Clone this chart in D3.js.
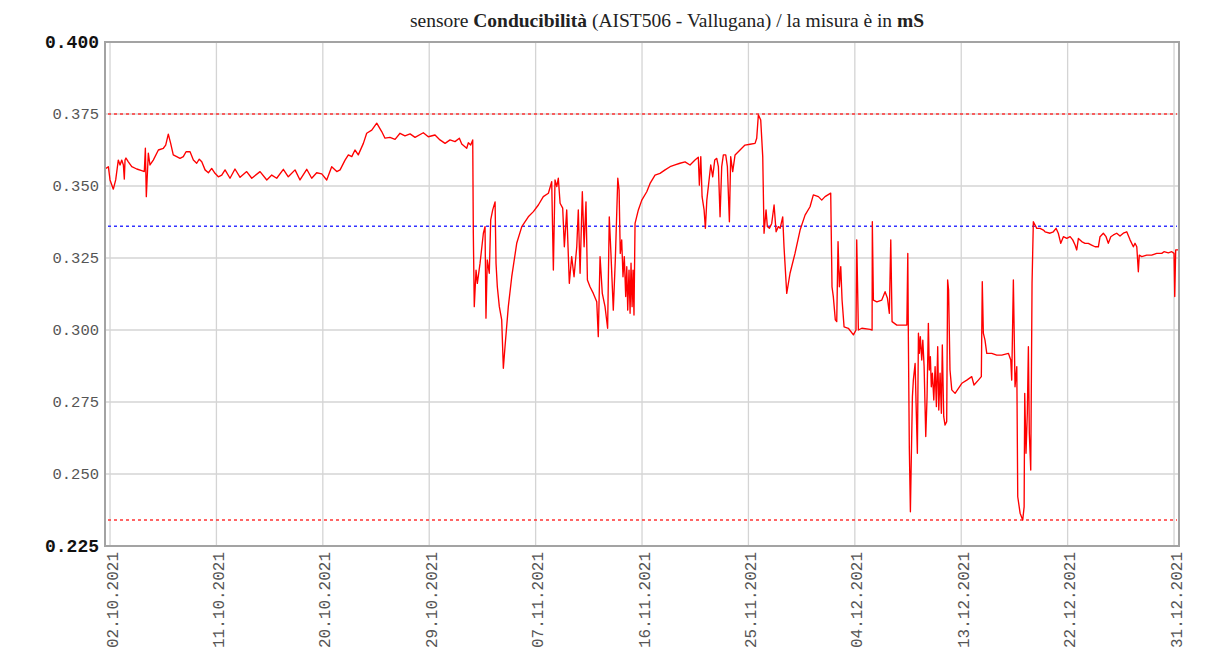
<!DOCTYPE html>
<html><head><meta charset="utf-8">
<script src="https://cdn.jsdelivr.net/npm/d3@7"></script>
<style>body{margin:0;background:#fff} svg{display:block}</style>
</head><body><svg id="chart" width="1214" height="653"></svg>
<script>
// days since 02.10.2021 00:00 (UTC) and measured conductivity (mS)
const days = [
-0.34,-0.14,0,0.28,0.48,0.70,0.85,0.99,1.13,1.21,1.27,1.35,1.55,1.84,2.26,2.68,2.90,2.99,3.07,3.24,
3.38,3.66,4.09,4.51,4.71,4.93,5.13,5.35,5.64,5.92,6.20,6.43,6.77,7.05,7.33,7.55,7.76,8.04,8.32,8.60,
8.88,9.16,9.45,9.73,10.15,10.57,11.00,11.56,11.99,12.69,13.26,13.68,14.10,14.66,15.08,15.65,16.07,16.64,17.06,17.48,
17.91,18.33,18.75,19.18,19.46,19.88,20.16,20.45,20.72,21.00,21.43,21.71,22.14,22.56,22.98,23.26,23.68,24.11,24.53,24.95,
25.38,25.80,26.50,26.92,27.49,27.91,28.34,28.76,29.18,29.55,29.75,30.17,30.31,30.51,30.68,30.73,30.81,30.96,31.07,31.30,
31.58,31.72,31.80,31.91,32.08,32.20,32.37,32.57,32.65,32.76,32.93,33.13,33.27,33.41,33.69,33.98,34.40,34.83,35.38,35.81,
36.23,36.65,37.08,37.36,37.50,37.64,37.79,37.92,38.07,38.29,38.43,38.63,38.85,39.05,39.25,39.48,39.61,39.76,39.95,40.10,
40.26,40.38,40.60,40.88,41.17,41.30,41.45,41.64,41.87,42.09,42.23,42.37,42.57,42.74,
42.95,43.06,43.16,43.28,43.39,43.50,43.62,43.71,43.79,43.90,43.99,44.07,44.16,44.24,44.32,44.41,
44.69,44.98,45.40,45.68,46.10,46.52,46.95,47.37,47.79,48.21,48.64,49.06,49.48,49.76,49.85,
49.97,50.08,50.25,50.36,50.48,50.64,50.81,50.98,51.15,51.32,51.46,51.60,51.74,51.88,52.08,52.22,52.39,52.50,52.67,52.87,
53.29,53.71,54.14,54.56,54.70,54.84,55.04,55.21,55.32,55.49,55.60,55.77,55.97,56.17,56.34,56.53,56.68,56.90,57.01,57.24,
57.52,57.94,58.37,58.79,59.21,59.49,59.92,60.20,60.48,60.96,61.07,61.18,61.35,61.47,61.58,61.69,61.81,61.92,62.09,62.45,
62.88,63.10,63.16,63.30,63.59,64.29,64.46,64.48,64.57,64.86,65.28,65.56,65.76,65.92,66.04,66.15,66.55,66.97,67.40,67.48,
67.53,67.61,67.70,67.76,67.87,67.95,68.10,68.18,68.29,68.38,68.46,68.54,68.66,68.75,68.86,69.00,69.11,69.22,69.30,69.39,
69.47,69.56,69.68,69.79,69.90,70.01,70.10,70.21,70.32,70.40,70.52,70.63,70.77,70.85,70.93,71.05,71.20,
71.48,71.68,72.05,72.47,72.89,73.08,73.45,73.70,73.78,73.87,74.01,
74.16,74.58,75.00,75.43,75.99,76.19,76.27,76.41,76.55,76.70,76.78,76.98,77.20,77.32,77.37,77.48,77.59,77.68,77.76,77.88,
77.99,78.10,78.39,78.67,78.95,79.09,79.51,79.79,80.02,80.21,80.42,80.64,80.93,81.21,81.43,81.63,81.77,81.91,82.19,82.47,
82.75,83.03,83.32,83.60,83.74,84.02,84.25,84.44,84.65,84.87,85.15,85.43,85.71,86.00,86.28,86.56,86.70,86.85,86.98,87.06,
87.27,87.69,88.11,88.54,88.96,89.15,89.52,89.81,90.00,90.06,90.14,90.36
];
const values = [
0.3561,0.3567,0.3521,0.3489,0.3521,0.3590,0.3573,0.3590,0.3573,0.3524,0.3590,0.3597,0.3584,0.3567,0.3559,0.3553,0.3550,0.3631,0.3463,0.3614,
0.3573,0.3590,0.3625,0.3631,0.3642,0.3680,0.3648,0.3608,0.3602,0.3596,0.3602,0.3619,0.3619,0.3590,0.3579,0.3593,0.3584,0.3556,0.3546,0.3561,
0.3544,0.3532,0.3538,0.3556,0.3527,0.3559,0.3530,0.3550,0.3527,0.3550,0.3521,0.3538,0.3527,0.3558,0.3532,0.3556,0.3521,0.3558,0.3527,0.3546,
0.3542,0.3521,0.3567,0.3550,0.3556,0.3590,0.3608,0.3602,0.3625,0.3608,0.3648,0.3683,0.3694,0.3718,0.3689,0.3666,0.3669,0.3662,0.3683,0.3674,
0.3681,0.3669,0.3685,0.3671,0.3677,0.3660,0.3648,0.3660,0.3654,0.3666,0.3646,0.3631,0.3650,0.3642,0.3660,0.3336,0.3081,0.3208,0.3162,0.3232,
0.3336,0.3359,0.3041,0.3243,0.3197,0.3382,0.3417,0.3445,0.3232,0.3150,0.3081,0.3035,0.2867,0.2942,0.3081,0.3185,0.3301,0.3359,0.3393,0.3411,
0.3434,0.3463,0.3475,0.3515,0.3208,0.3521,0.3498,0.3527,0.3440,0.3423,0.3289,0.3417,0.3162,0.3255,0.3185,0.3289,0.3417,0.3197,0.3480,0.3289,
0.3445,0.3174,0.3150,0.3127,0.3098,0.2977,0.3255,0.3127,0.3081,0.3006,0.3393,0.3266,0.3069,0.3243,
0.3527,0.3486,0.3266,0.3313,0.3185,0.3255,0.3116,0.3220,0.3069,0.3208,0.3058,0.3232,0.3081,0.3208,0.3052,0.3370,
0.3417,0.3451,0.3480,0.3509,0.3538,0.3544,0.3556,0.3567,0.3573,0.3579,0.3584,0.3573,0.3590,0.3600,0.3503,
0.3602,0.3463,0.3417,0.3353,0.3451,0.3509,0.3573,0.3532,0.3590,0.3596,0.3567,0.3393,0.3567,0.3608,0.3608,0.3567,0.3376,0.3602,0.3550,0.3608,
0.3625,0.3642,0.3645,0.3648,0.3666,0.3747,0.3729,0.3602,0.3336,0.3417,0.3359,0.3353,0.3370,0.3434,0.3341,0.3359,0.3353,0.3393,0.3289,0.3127,
0.3197,0.3266,0.3347,0.3399,0.3428,0.3469,0.3463,0.3451,0.3463,0.3475,0.3150,0.3116,0.3035,0.3029,0.3307,0.3150,0.3220,0.3104,0.3011,0.3006,
0.2983,0.3000,0.3313,0.3000,0.3006,0.3002,0.3000,0.3376,0.3104,0.3098,0.3104,0.3133,0.3110,0.3058,0.3313,0.3029,0.3017,0.3017,0.3017,0.3266,
0.2965,0.2589,0.2369,0.2514,0.2768,0.2826,0.2884,0.2745,0.2572,0.2989,0.2919,0.2977,0.2896,0.2965,0.2873,0.2630,0.2768,0.3023,0.2861,0.2907,
0.2803,0.2850,0.2757,0.2873,0.2734,0.2942,0.2722,0.2850,0.2711,0.2948,0.2699,0.2670,0.2682,0.3174,0.3139,0.2861,0.2792,
0.2780,0.2792,0.2815,0.2826,0.2838,0.2809,0.2826,0.2838,0.3168,0.2989,0.2965,
0.2919,0.2919,0.2913,0.2913,0.2919,0.2896,0.2826,0.3174,0.2803,0.2873,0.2421,0.2364,0.2340,0.2386,0.2780,0.2572,0.2711,0.2942,0.2641,0.2514,
0.3162,0.3376,0.3353,0.3353,0.3347,0.3341,0.3336,0.3341,0.3353,0.3336,0.3301,0.3324,0.3318,0.3324,0.3313,0.3295,0.3278,0.3318,0.3307,0.3301,
0.3301,0.3295,0.3289,0.3289,0.3324,0.3336,0.3324,0.3301,0.3324,0.3330,0.3336,0.3326,0.3336,0.3341,0.3313,0.3289,0.3301,0.3289,0.3202,0.3260,
0.3255,0.3260,0.3260,0.3266,0.3266,0.3272,0.3268,0.3272,0.3266,0.3116,0.3278,0.3278
];
const xTickLabels = ["02.10.2021","11.10.2021","20.10.2021","29.10.2021","07.11.2021","16.11.2021",
  "25.11.2021","04.12.2021","13.12.2021","22.12.2021","31.12.2021"];
const yTicks = [0.225,0.250,0.275,0.300,0.325,0.350,0.375,0.400];
const yDomain = [0.225,0.400];
const xDomainDays = [-0.34, 90.42];
const upperLimit = 0.375, lowerLimit = 0.234, meanLevel = 0.336;

const startMs = Date.UTC(2021,9,2);
const toDate = d => new Date(startMs + d*86400000);
const parse = d3.utcParse("%d.%m.%Y");

const L=106, T=42, R=1179, B=546;
const svg = d3.select("#chart");
const x = d3.scaleUtc().domain(xDomainDays.map(toDate)).range([L,R]);
const y = d3.scaleLinear().domain(yDomain).range([B,T]);
const tickDates = xTickLabels.map(parse);

// grid
const grid = svg.append("g").attr("stroke","#d4d4d4").attr("stroke-width",1.3);
grid.selectAll("line.v").data(tickDates).join("line")
  .attr("x1",d=>x(d)).attr("x2",d=>x(d)).attr("y1",T).attr("y2",B);
grid.selectAll("line.h").data(yTicks).join("line")
  .attr("x1",L).attr("x2",R).attr("y1",d=>y(d)).attr("y2",d=>y(d));

// reference levels
svg.append("defs").append("clipPath").attr("id","clip")
  .append("rect").attr("x",L).attr("y",T).attr("width",R-L).attr("height",B-T);
const refs = [[upperLimit,"#ff3333"],[lowerLimit,"#ff3333"],[meanLevel,"#3333ff"]];
svg.append("g").selectAll("line").data(refs).join("line")
  .attr("x1",L+2).attr("x2",R-2).attr("y1",d=>y(d[0])).attr("y2",d=>y(d[0]))
  .attr("stroke",d=>d[1]).attr("stroke-width",1.5).attr("stroke-dasharray","3,3");

// data line
const n = Math.min(days.length, values.length);
const pts = d3.range(n).map(i=>[days[i],values[i]]);
svg.append("path").datum(pts).attr("clip-path","url(#clip)")
  .attr("fill","none").attr("stroke","#ff0000").attr("stroke-width",1.35)
  .attr("stroke-linejoin","round")
  .attr("d", d3.line().x(d=>x(toDate(d[0]))).y(d=>y(d[1])));

// frame
svg.append("rect").attr("x",L-1).attr("y",T).attr("width",R-L+1).attr("height",B-T)
  .attr("fill","none").attr("stroke","#a3a3a3").attr("stroke-width",2);

// y axis
const yAxis = svg.append("g").attr("transform",`translate(${L},0)`)
  .call(d3.axisLeft(y).tickValues(yTicks).tickSize(0).tickPadding(7).tickFormat(d3.format(".3f")));
yAxis.select(".domain").remove();
yAxis.selectAll("text").attr("font-family","'Liberation Mono', monospace")
  .attr("font-size",15.5).attr("fill","#555");
yAxis.selectAll(".tick").filter(d=>d===yDomain[0]||d===yDomain[1]).select("text")
  .attr("font-weight","bold").attr("font-size",18).attr("fill","#111");

// x axis
const xAxis = svg.append("g").attr("transform",`translate(0,${B})`)
  .call(d3.axisBottom(x).tickValues(tickDates).tickSize(0).tickFormat(d3.utcFormat("%d.%m.%Y")));
xAxis.select(".domain").remove();
xAxis.selectAll("text").attr("font-family","'Liberation Mono', monospace")
  .attr("font-size",16).attr("fill","#555")
  .attr("transform","rotate(-90)").attr("text-anchor","end")
  .attr("x",-6).attr("y",7).attr("dy",0);

// title
const title = svg.append("text").attr("x",667).attr("y",27).attr("text-anchor","middle")
  .attr("font-family","'Liberation Serif', 'Times New Roman', serif").attr("font-size",19.5).attr("fill","#222");
title.append("tspan").text("sensore ");
title.append("tspan").attr("font-weight","bold").text("Conducibilità");
title.append("tspan").text(" (AIST506 - Vallugana) / la misura è in ");
title.append("tspan").attr("font-weight","bold").text("mS");
</script></body></html>
